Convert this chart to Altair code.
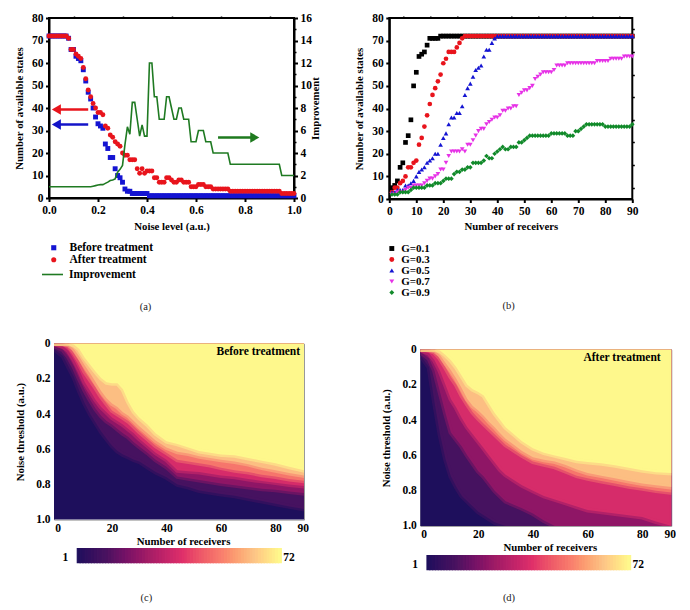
import altair as alt
import pandas as pd

FONT = "Liberation Serif"

# ---------- panel (a) ----------
noise = [i / 100 for i in range(101)]
before = [72]*8 + [71, 66, 66, 63, 62, 61, 57, 52, 47, 44, 40, 36, 33, 32, 31, 24, 22, 18, 18, 13, 10, 9, 7, 4, 3, 3] + [2]*7 + [1]*60
after = [72]*8 + [71, 66, 66, 64, 63, 62, 58, 53, 48, 45, 42, 40, 38, 38, 37, 32, 31, 28, 27, 25, 24, 23, 20, 19, 19, 17, 17, 17, 13, 11, 13, 11, 12, 12, 12, 9, 9, 7, 7, 7, 9, 9, 8, 7, 7, 8, 8, 7, 7, 7, 5, 5, 5, 6, 6, 6, 5, 5, 5, 4, 4, 4, 4, 4, 4, 4] + [3]*21 + [2]*6
improvement = [1.0]*18 + [1.05, 1.1, 1.15, 1.19, 1.19, 1.3, 1.41, 1.55, 1.6, 1.7, 2.3, 2.55, 2.9, 4.75, 6.33, 5.67, 8.5, 8.5, 7.0, 5.5, 6.5, 5.5, 5.5, 12, 12, 9, 9, 7, 7, 7, 9, 9, 8, 7, 7, 8, 8, 7, 7, 7, 5, 5, 5, 6, 6, 6, 5, 5, 5] + [4]*7 + [3]*21 + [2]*6

arrow_names = ["after", "before", "gain"]
arrow_tail = [0.16, 0.16, 0.69]
arrow_head = [0.03, 0.03, 0.84]
arrow_level = [39.3, 32.7, 26.9]
arrow_colors = ["#e8141c", "#1414c8", "#1e7a1e"]
arrow_shapes = ["triangle-left", "triangle-left", "triangle-right"]

# ---------- panel (b) ----------
receivers = list(range(1, 91))
g01 = [5, 6, 8, 14, 16, 25, 28, 35, 50, 56, 63, 64, 65, 68, 71, 71, 71, 71] + [72]*72
g03 = [3, 5, 5, 7, 8, 10, 14, 14, 16, 17, 24, 27, 32, 37, 42, 46, 49, 52, 55, 60, 62, 65, 65, 65, 67, 69, 71] + [72]*63
g05 = [3, 3, 4, 4, 4, 6, 6, 7, 8, 10, 12, 13, 14, 16, 17, 18, 20, 20, 24, 27, 29, 33, 36, 36, 38, 38, 41, 46, 49, 51, 54, 57, 58, 59, 63, 66, 66, 69, 71] + [72]*51
g07 = [2, 2, 3, 3, 3, 4, 5, 5, 6, 6, 6, 6, 7, 8, 9, 9, 10, 11, 13, 13, 16, 19, 21, 21, 21, 21, 22, 21, 24, 24, 26, 28, 30, 31, 31, 33, 34, 35, 36, 36, 37, 39, 39, 40, 40, 41, 41, 46, 47, 48, 48, 49, 50, 53, 54, 55, 56, 56, 56, 56, 57, 59, 59, 59, 59] + [60]*11 + [61]*5 + [62]*5 + [63]*4
g09 = [2, 2, 2, 3, 3, 3, 3, 4, 5, 5, 5, 5, 5, 6, 6, 6, 7, 7, 7, 8, 9, 9, 9, 11, 12, 12, 13, 13, 14, 14, 16, 16, 16, 16, 17, 19, 18, 18, 20, 21, 22, 23, 22, 22, 23, 23, 23, 25, 25, 26, 27] + [28]*8 + [29]*6 + [28]*3 + [30, 30, 31, 32] + [33]*7 + [32]*10 + [33]
g_names = ["G=0.1", "G=0.3", "G=0.5", "G=0.7", "G=0.9"]
g_series = [g01, g03, g05, g07, g09]
g_colors = ["#000000", "#e8141c", "#1414d2", "#e632e6", "#118a2a"]
g_shapes = ["square", "circle", "triangle-up", "triangle-down", "diamond"]

# ---------- heat maps: thresholds where each colour band ends, per receiver ----------
band_x = [-1.3, 2, 4, 6, 8, 10, 12, 14, 16, 18, 20, 22, 24, 26, 28, 30, 33, 36, 40, 44, 48, 52, 56, 60, 65, 70, 75, 80, 85, 90.7]
band_values = [72, 62, 50, 36, 22, 10]

before_bands = [
    [0, 0, 0, .002, .01, .03],
    [0, 0, .002, .015, .035, .07],
    [0, .005, .012, .04, .075, .13],
    [.005, .03, .05, .09, .13, .19],
    [.03, .075, .10, .15, .20, .27],
    [.08, .125, .16, .22, .265, .34],
    [.12, .17, .205, .27, .32, .40],
    [.16, .22, .25, .32, .37, .45],
    [.195, .27, .30, .36, .41, .50],
    [.22, .31, .34, .39, .44, .54],
    [.225, .34, .38, .42, .46, .58],
    [.225, .36, .40, .44, .485, .61],
    [.26, .39, .42, .46, .51, .63],
    [.33, .41, .44, .485, .53, .645],
    [.385, .44, .47, .51, .56, .66],
    [.42, .47, .50, .54, .585, .67],
    [.46, .51, .54, .58, .62, .70],
    [.51, .55, .58, .62, .66, .73],
    [.555, .59, .62, .66, .70, .76],
    [.57, .615, .66, .72, .755, .80],
    [.59, .625, .67, .725, .765, .815],
    [.61, .64, .68, .73, .775, .835],
    [.62, .65, .69, .74, .785, .845],
    [.63, .66, .705, .75, .795, .855],
    [.635, .67, .72, .757, .805, .865],
    [.65, .685, .73, .77, .815, .88],
    [.665, .705, .745, .78, .825, .895],
    [.68, .72, .755, .79, .83, .91],
    [.70, .735, .77, .80, .84, .925],
    [.72, .75, .78, .81, .85, .94],
]
after_bands = [
    [0, 0, 0, .002, .01, .03],
    [0, 0, .003, .02, .05, .10],
    [0, .005, .015, .06, .12, .30],
    [.005, .03, .05, .12, .24, .48],
    [.03, .075, .10, .20, .36, .62],
    [.06, .117, .155, .28, .47, .72],
    [.10, .165, .20, .33, .51, .78],
    [.15, .22, .26, .39, .55, .83],
    [.20, .28, .31, .44, .60, .86],
    [.225, .32, .355, .48, .645, .89],
    [.24, .345, .39, .52, .69, .92],
    [.26, .375, .42, .56, .72, .94],
    [.31, .41, .45, .60, .76, .96],
    [.36, .44, .48, .64, .80, .98],
    [.40, .475, .51, .68, .83, .99],
    [.44, .505, .54, .71, .86, 1.0],
    [.48, .54, .57, .74, .88, 1.0],
    [.52, .575, .60, .77, .90, 1.0],
    [.56, .61, .635, .80, .93, 1.0],
    [.585, .625, .65, .83, .97, 1.0],
    [.60, .635, .665, .85, 1.0, 1.0],
    [.615, .655, .69, .87, 1.0, 1.0],
    [.63, .68, .715, .89, 1.0, 1.0],
    [.637, .70, .73, .91, 1.0, 1.0],
    [.645, .715, .745, .92, 1.0, 1.0],
    [.656, .73, .76, .93, 1.0, 1.0],
    [.67, .745, .775, .94, 1.0, 1.0],
    [.685, .76, .787, .95, 1.0, 1.0],
    [.695, .77, .80, .975, 1.0, 1.0],
    [.70, .78, .81, 1.0, 1.0, 1.0],
]
bar_values = list(range(1, 73))
color_stops = [1, 11, 25, 38, 52, 63, 72]
color_range = ["#1e0f5c", "#4a1260", "#a01c65", "#e0306a", "#f9806e", "#fcc486", "#fef88c"]

heat_scale = alt.Scale(domain=color_stops, range=color_range)
bold = dict(labelFont=FONT, labelFontWeight="bold", labelFontSize=11.5, labelColor="black",
            titleFont=FONT, titleFontWeight="bold", titleFontSize=10.8, titleColor="black")
dummy = alt.Data(values=[{"x": 0, "y": 0}])
INDEP = dict(color="independent", shape="independent", stroke="independent")


def caption(text, px, py):
    return alt.Chart(dummy).mark_text(text=text, font=FONT, fontSize=10.5, color="#222", align="center", baseline="middle").encode(
        x=alt.value(px), y=alt.value(py))


def minor(xdom, ydom, xvals, yvals):
    return alt.Chart(dummy).mark_point(opacity=0).encode(
        x=alt.X("x:Q", scale=alt.Scale(domain=xdom),
                axis=alt.Axis(values=xvals, labels=False, title=None, domain=False, tickSize=2, tickWidth=1.5, tickColor="black", grid=False)),
        y=alt.Y("y:Q", scale=alt.Scale(domain=ydom),
                axis=alt.Axis(values=yvals, labels=False, title=None, domain=False, tickSize=2, tickWidth=1.5, tickColor="black", grid=False)),
    )


# panel a
dfa = pd.DataFrame({"x": noise, "Before treatment": before, "After treatment": after, "imp": improvement})
a_long = dfa.melt(id_vars="x", value_vars=["Before treatment", "After treatment"], var_name="s", value_name="v")
xa = alt.Scale(domain=[0, 1])
ya = alt.Scale(domain=[0, 80])
a_axis_x = alt.Axis(values=[0, .2, .4, .6, .8, 1], format=".1f", title="Noise level (a.u.)", grid=False, domainWidth=2, tickWidth=2,
                    tickSize=3.5, tickColor="black", domainColor="black", labelPadding=3, titlePadding=4, labelOverlap=False, labelFlush=False, **bold)
a_names = ["Before treatment", "After treatment"]
a_leg = alt.Legend(title=None, orient="none", legendX=-1, legendY=224, symbolSize=26, labelOffset=10, rowPadding=-2,
                   labelFont=FONT, labelFontWeight="bold", labelFontSize=11.5, labelColor="black", symbolStrokeWidth=0)
a_pts = alt.Chart(a_long).mark_point(filled=True, opacity=1, size=24).encode(
    x=alt.X("x:Q", scale=xa, axis=a_axis_x),
    y=alt.Y("v:Q", scale=ya, axis=alt.Axis(values=list(range(0, 81, 10)), title="Number of available states", grid=False, domainWidth=2, tickWidth=2,
                                          tickSize=3.5, tickColor="black", domainColor="black", labelPadding=2.5, titlePadding=7, labelOverlap=False, **bold)),
    color=alt.Color("s:N", scale=alt.Scale(domain=a_names, range=["#1414d2", "#e8141c"]), legend=a_leg),
    shape=alt.Shape("s:N", scale=alt.Scale(domain=a_names, range=["square", "circle"]), legend=a_leg),
    order=alt.Order("o:Q"),
).transform_calculate(o="datum.s === 'Before treatment' ? 0 : 1")
a_line = alt.Chart(dfa).transform_calculate(name="'Improvement'").mark_line(strokeWidth=1.6).encode(
    x=alt.X("x:Q", scale=xa, axis=None),
    y=alt.Y("imp:Q", scale=alt.Scale(domain=[0, 16]),
            axis=alt.Axis(values=list(range(0, 17, 2)), orient="right", title="Improvement", grid=False, domainWidth=2, tickWidth=2,
                          tickSize=3.5, tickColor="black", domainColor="black", labelPadding=2.5, titlePadding=-2, titleAngle=270, titleBaseline="top", labelOverlap=False, **bold)),
    stroke=alt.Stroke("name:N", scale=alt.Scale(domain=["Improvement"], range=["#1f7a22"]),
                      legend=alt.Legend(title=None, orient="none", legendX=-8, legendY=245, symbolSize=441, symbolStrokeWidth=1.6, labelOffset=5,
                                        labelFont=FONT, labelFontWeight="bold", labelFontSize=11.5, labelColor="black")),
)
df_arrow = pd.DataFrame({"n": arrow_names, "tail": arrow_tail, "head": arrow_head, "lvl": arrow_level, "c": arrow_colors, "sh": arrow_shapes})
arrow_rule = alt.Chart(df_arrow).mark_rule(strokeWidth=2.5).encode(
    x=alt.X("tail:Q", scale=xa, axis=None), x2="head:Q", y=alt.Y("lvl:Q", scale=ya, axis=None),
    color=alt.Color("c:N", scale=None, legend=None))
arrow_head_mark = alt.Chart(df_arrow).mark_point(filled=True, opacity=1, size=110).encode(
    x=alt.X("head:Q", scale=xa, axis=None), y=alt.Y("lvl:Q", scale=ya, axis=None),
    color=alt.Color("c:N", scale=None, legend=None),
    shape=alt.Shape("sh:N", scale=None, legend=None))

panel_a = alt.layer(
    a_pts, arrow_rule, arrow_head_mark,
    minor([0, 1], [0, 80], [.1, .3, .5, .7, .9], [5, 15, 25, 35, 45, 55, 65, 75]),
    a_line, caption("(a)", 96.5, 288.7),
).resolve_scale(y="independent", color="independent", shape="independent", stroke="independent").resolve_axis(x="independent", y="independent").properties(
    width=245, height=180,
    view=alt.ViewConfig(stroke="black", strokeWidth=2),
)

# panel b
b_rows = []
for name, series in zip(g_names, g_series):
    for n, v in zip(receivers, series):
        b_rows.append({"n": n, "v": v, "s": name})
dfb = pd.DataFrame(b_rows)
xb = alt.Scale(domain=[0, 90])
yb = alt.Scale(domain=[0, 80])
b_leg = alt.Legend(title=None, orient="none", legendX=-3, legendY=225, symbolSize=24, labelOffset=4, rowPadding=-2.2,
                   labelFont=FONT, labelFontWeight="bold", labelFontSize=11, labelColor="black", symbolStrokeWidth=0)
b_pts = alt.Chart(dfb).mark_point(filled=True, opacity=1, size=22).encode(
    x=alt.X("n:Q", scale=xb, axis=alt.Axis(values=list(range(0, 91, 10)), title="Number of receivers", grid=False, domainWidth=2, tickWidth=2,
                                          tickSize=3.5, tickColor="black", domainColor="black", labelPadding=3, titlePadding=3, labelOverlap=False, labelFlush=False, **bold)),
    y=alt.Y("v:Q", scale=yb, axis=alt.Axis(values=list(range(0, 81, 10)), title="Number of available states", grid=False, domainWidth=2, tickWidth=2,
                                          tickSize=3.5, tickColor="black", domainColor="black", labelPadding=2.5, titlePadding=7, labelOverlap=False, **bold)),
    color=alt.Color("s:N", scale=alt.Scale(domain=g_names, range=g_colors), legend=b_leg),
    shape=alt.Shape("s:N", scale=alt.Scale(domain=g_names, range=g_shapes), legend=b_leg),
    order=alt.Order("o:Q"),
).transform_calculate(o="indexof(['G=0.1','G=0.3','G=0.5','G=0.7','G=0.9'], datum.s)")
panel_b = alt.layer(b_pts, minor([0, 90], [0, 80], list(range(5, 90, 10)), list(range(5, 80, 10))), caption("(b)", 119.4, 288.3)).resolve_axis(x="independent", y="independent").properties(
    width=243, height=181,
    view=alt.ViewConfig(stroke="black", strokeWidth=2),
)


def heat(bands, w, h, xdom, label, lx, ly, cap, cx, cy):
    rows = [{"x": xdom[0], "t": 1.0, "t0": 0.0, "v": 1, "b": 0}, {"x": xdom[1], "t": 1.0, "t0": 0.0, "v": 1, "b": 0}]
    for j in range(len(band_values) - 1, -1, -1):
        for x, row in zip(band_x, bands):
            rows.append({"x": x, "t": row[j], "t0": 0.0, "v": band_values[j], "b": len(band_values) - j})
    df = pd.DataFrame(rows)
    xs = alt.Scale(domain=xdom, nice=False, zero=False)
    ys = alt.Scale(domain=[1, 0], nice=False)
    areas = alt.Chart(df).mark_area(line=False, clip=True, strokeWidth=5, strokeOpacity=0.5).encode(
        x=alt.X("x:Q", scale=xs, axis=alt.Axis(values=[0, 20, 40, 60, 80, 90], format="d", title="Number of receivers", domain=False, ticks=False,
                                               grid=False, labelPadding=3, titlePadding=1, labelFlush=False, labelOverlap=False, titleX=w / 2 + 4, **bold)),
        y=alt.Y("t:Q", scale=ys, axis=alt.Axis(values=[0, .2, .4, .6, .8, 1], title="Noise threshold (a.u.)", domain=False, ticks=False, grid=False,
                                               labelExpr="datum.value === 0 ? '0' : format(datum.value, '.1f')", labelPadding=4, titlePadding=10, labelOverlap=False, **bold)),
        y2="t0:Q",
        color=alt.Color("v:Q", scale=heat_scale, legend=None),
        stroke=alt.Stroke("v:Q", scale=heat_scale, legend=None),
        detail="b:N",
    )
    text = alt.Chart(pd.DataFrame({"x": [lx], "y": [ly], "t": [label]})).mark_text(
        font=FONT, fontWeight="bold", fontSize=11.5, align="right", baseline="middle", color="black").encode(
        x=alt.X("x:Q", scale=xs, axis=None), y=alt.Y("y:Q", scale=ys, axis=None), text="t:N")
    return alt.layer(areas, text, caption(cap, cx, cy)).resolve_axis(x="independent", y="independent").properties(
        width=w, height=h, view=alt.ViewConfig(stroke="#999", strokeWidth=1))


def colorbar(w, x0, x1):
    df = pd.DataFrame({"v": bar_values})
    df["v2"] = df["v"] + 1
    xs = alt.Scale(domain=[1, 73], range=[x0, x1], nice=False, zero=False)
    bars = alt.Chart(df).mark_rect(strokeWidth=1.2).encode(
        x=alt.X("v:Q", scale=xs, axis=None), x2="v2:Q",
        color=alt.Color("v:Q", scale=heat_scale, legend=None),
        stroke=alt.Stroke("v:Q", scale=heat_scale, legend=None))
    lab = alt.Chart(pd.DataFrame({"v": [bar_values[0], bar_values[-1] + 1], "t": ["1", "72"]}))
    t1 = lab.transform_filter("datum.t === '1'").mark_text(font=FONT, fontWeight="bold", fontSize=11.5, align="right", dx=-9, color="black", dy=2).encode(
        x=alt.X("v:Q", scale=xs, axis=None), text="t:N")
    t2 = lab.transform_filter("datum.t === '72'").mark_text(font=FONT, fontWeight="bold", fontSize=11.5, align="left", dx=2, color="black", dy=2).encode(
        x=alt.X("v:Q", scale=xs, axis=None), text="t:N")
    return alt.layer(bars, t1, t2).properties(width=w, height=14, view=alt.ViewConfig(stroke=None))


panel_c = heat(before_bands, 250, 176, [-1.3, 90.45], "Before treatment", 89, 0.05, "(c)", 92.3, 254.7)
panel_d = heat(after_bands, 251, 176.3, [-1.2, 90.6], "After treatment", 86.7, 0.05, "(d)", 88.7, 248.7)
bar_c = colorbar(250, 23.3, 227.3)
bar_d = colorbar(251, 6.7, 210.3)


def spacer(w):
    return alt.Chart(dummy).mark_point(opacity=0).encode(x=alt.value(0)).properties(width=w, height=1, view=alt.ViewConfig(stroke=None))


block_c = alt.hconcat(spacer(4.7), alt.vconcat(panel_c, bar_c, spacing=29, bounds="flush"), spacing=0, bounds="flush")
block_d = alt.hconcat(spacer(30.7), alt.vconcat(panel_d, bar_d, spacing=29, bounds="flush"), spacing=0, bounds="flush")
left = alt.vconcat(panel_a, block_c, spacing=145.6, bounds="flush").resolve_scale(**INDEP)
right = alt.vconcat(panel_b, block_d, spacing=150.6, bounds="flush").resolve_scale(**INDEP)
chart = alt.hconcat(left, right, spacing=340.3, bounds="flush").resolve_scale(**INDEP).properties(
    padding={"left": 4, "top": 3, "right": 0, "bottom": 0}
).configure(background="white").configure_view(strokeWidth=0)

chart.save("out.html", embed_options={"renderer": "svg", "actions": False})
